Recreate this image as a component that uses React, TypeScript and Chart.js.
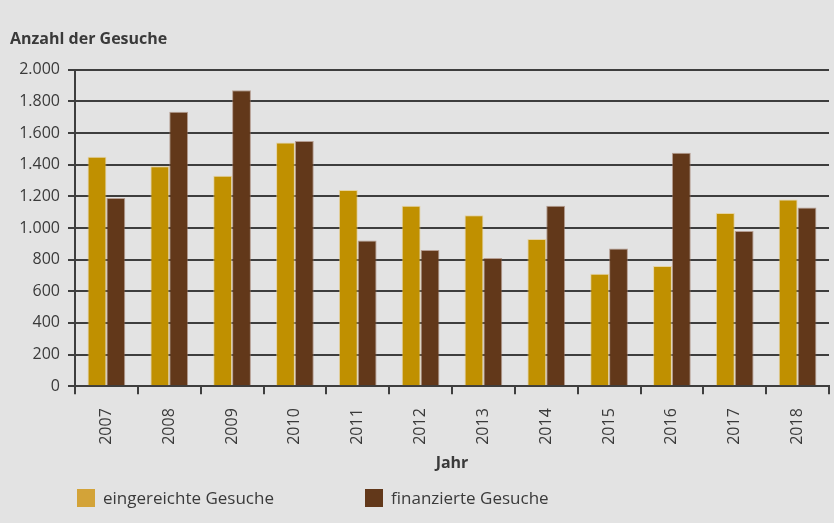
import React, { useEffect, useRef } from "react";
import { Chart, registerables } from "chart.js";

Chart.register(...registerables);

const years = ["2007", "2008", "2009", "2010", "2011", "2012", "2013", "2014", "2015", "2016", "2017", "2018"];
const eingereicht = [1450, 1390, 1330, 1540, 1240, 1140, 1080, 930, 710, 760, 1095, 1180];
const finanziert = [1190, 1735, 1870, 1550, 920, 860, 810, 1140, 870, 1475, 980, 1130];
const seriesNames = ["eingereichte Gesuche", "finanzierte Gesuche"];

const FONT = "'Open Sans', 'DejaVu Sans', sans-serif";
const TEXT = "#3a3a3a";
const GRID = "#3e3e3e";
const BG = "#e3e3e3";

const bgPlugin = {
  id: "bg",
  beforeDraw(chart: any) {
    const { ctx, width, height } = chart;
    ctx.save();
    ctx.fillStyle = BG;
    ctx.fillRect(0, 0, width, height);
    ctx.restore();
  },
};

const legendPlugin = {
  id: "customLegend",
  afterDraw(chart: any) {
    const { ctx } = chart;
    const xs = [77, 365];
    const swatches = ["#d3a338", "#62381a"];
    const y = 489;
    ctx.save();
    ctx.font = `17px ${FONT}`;
    ctx.textBaseline = "middle";
    ctx.textAlign = "left";
    chart.data.datasets.forEach((ds: any, i: number) => {
      ctx.fillStyle = swatches[i];
      ctx.fillRect(xs[i], y, 18, 18);
      ctx.fillStyle = TEXT;
      ctx.fillText(ds.label, xs[i] + 26, y + 10);
    });
    ctx.restore();
  },
};

export default function App() {
  const ref = useRef<HTMLCanvasElement | null>(null);
  useEffect(() => {
    if (!ref.current) return;
    const chart = new Chart(ref.current, {
      type: "bar",
      data: {
        labels: years,
        datasets: [
          {
            label: seriesNames[0],
            data: eingereicht,
            backgroundColor: "#c09000",
            borderColor: "rgba(230,200,120,0.6)",
            borderWidth: 1,
          },
          {
            label: seriesNames[1],
            data: finanziert,
            backgroundColor: "#62381a",
            borderColor: "rgba(150,110,90,0.6)",
            borderWidth: 1,
          },
        ],
      },
      options: {
        responsive: false,
        animation: false,
        layout: { padding: { left: 10, right: 5, top: 0, bottom: 50 } },
        plugins: {
          legend: { display: false },
          tooltip: { enabled: false },
          title: {
            display: true,
            text: "Anzahl der Gesuche",
            align: "start",
            color: TEXT,
            font: { family: FONT, size: 16, weight: "bold" },
            padding: { top: 30, bottom: 20.5 },
          },
        },
        datasets: { bar: { categoryPercentage: 0.6, barPercentage: 1 } },
        scales: {
          x: {
            grid: {
              display: true,
              drawOnChartArea: false,
              drawTicks: true,
              tickLength: 8,
              color: GRID,
              lineWidth: 2,
            },
            border: { display: true, color: GRID, width: 2 },
            ticks: {
              color: TEXT,
              font: { family: FONT, size: 16 },
              minRotation: 90,
              maxRotation: 90,
              padding: 14,
            },
            title: {
              display: true,
              text: "Jahr",
              color: TEXT,
              font: { family: FONT, size: 16, weight: "bold" },
              padding: { top: -5, bottom: 0 },
            },
          },
          y: {
            min: 0,
            max: 2000,
            afterFit(scale: any) {
              scale.width = 65;
            },
            grid: {
              color: GRID,
              lineWidth: 2,
              drawTicks: true,
              tickLength: 7,
            },
            border: { display: true, color: GRID, width: 2 },
            ticks: {
              stepSize: 200,
              color: TEXT,
              padding: 8,
              font: { family: FONT, size: 16 },
              callback: (v: any) => Number(v).toLocaleString("de-DE"),
            },
          },
        },
      },
      plugins: [bgPlugin, legendPlugin],
    });
    return () => chart.destroy();
  }, []);
  return (
    <div style={{ position: "absolute", left: 0, top: 0, width: 834, height: 523 }}>
      <canvas ref={ref} width={834} height={523} />
    </div>
  );
}
